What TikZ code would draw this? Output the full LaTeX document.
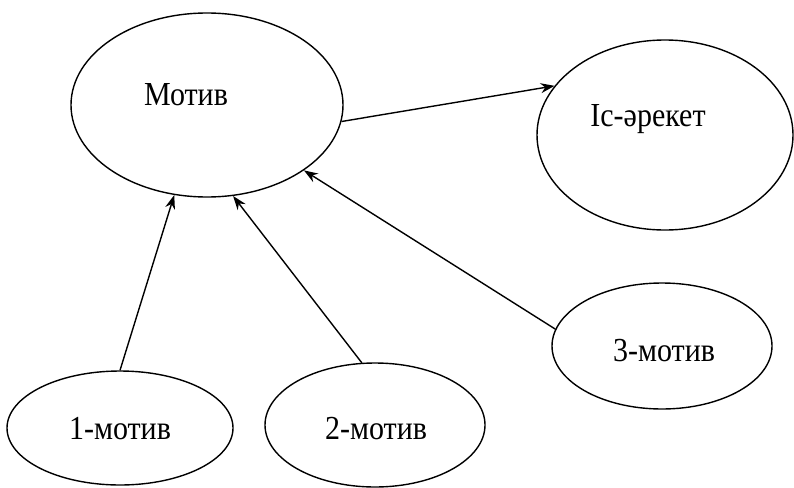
\documentclass[tikz,border=0pt]{standalone}
\usepackage{fontspec}
\setmainfont{Liberation Serif}
\usetikzlibrary{shapes.geometric,arrows.meta}
\newcommand{\tallt}[1]{\scalebox{1}[1.12]{#1}}
\begin{document}
\begin{tikzpicture}[x=1pt,y=-1pt,
  oval/.style={draw, ellipse, line width=1.4pt, inner sep=0pt},
  lbl/.style={inner sep=0pt, font=\fontsize{30}{32}\selectfont},
  arr/.style={line width=1.4pt, -{Stealth[length=14pt,width=10pt]}}]
\useasboundingbox (0,0) rectangle (794,487);
\fill[white] (0,0) rectangle (794,487);
\node[oval, minimum width=272pt, minimum height=184pt] (motiv) at (207,105) {};
\node[oval, minimum width=256pt, minimum height=190pt] (act) at (665,135) {};
\node[oval, minimum width=226pt, minimum height=114pt] (m1) at (120,428) {};
\node[oval, minimum width=220pt, minimum height=124pt] (m2) at (375,425) {};
\node[oval, minimum width=220pt, minimum height=126pt] (m3) at (662,346) {};
\node[lbl] (tmotiv) at (186,95) {\tallt{Мотив}};
\node[lbl] (tact) at (648,119) {\tallt{Іс-әрекет}};
\node[lbl] (tm1) at (120,429) {\tallt{1-мотив}};
\node[lbl] (tm2) at (376,429) {\tallt{2-мотив}};
\node[lbl] (tm3) at (664,351) {\tallt{3-мотив}};
\draw[arr] (motiv.-7) -- (act.156);
\draw[arr] (m1.north) -- (motiv.250);
\draw[arr] (m2.102) -- (motiv.286.6);
\draw[arr] (m3.171.6) -- (motiv.326.4);
\end{tikzpicture}
\end{document}
